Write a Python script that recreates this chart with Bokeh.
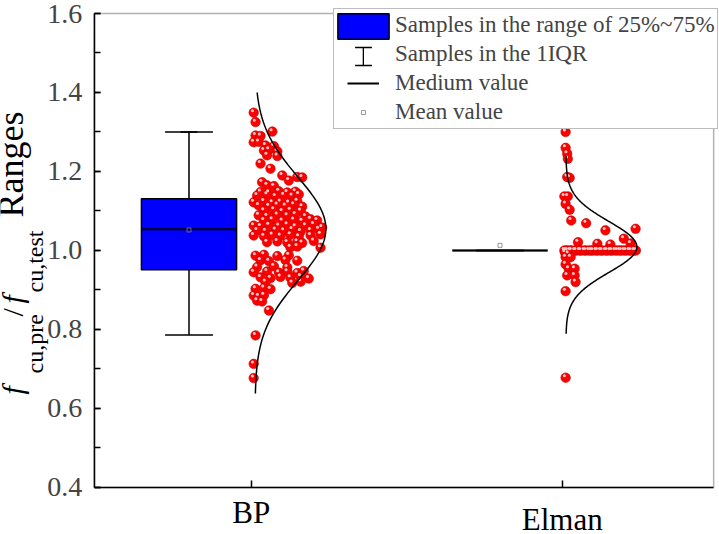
import numpy as np
from bokeh.plotting import figure
from bokeh.models import (ColumnDataSource, Range1d, Label, Legend, LegendItem,
                          FixedTicker, SingleIntervalTicker, PrintfTickFormatter,
                          BoxAnnotation)
from bokeh.transform import dodge
from bokeh.embed import file_html
from bokeh.resources import INLINE

# ---------------- data ----------------
categories = ["BP", "Elman"]
cat_pos = [1, 2]

# box statistics
q1 = [0.951, 1.000]
q3 = [1.131, 1.000]
medians = [1.054, 1.000]
whisker_low = [0.786, 1.000]
whisker_high = [1.300, 1.000]
means = [1.052, 1.013]

# normal-distribution curves drawn beside each group
curve_mu = [1.055, 1.009]
curve_sigma = [0.131, 0.0645]
curve_lo = [0.638, 0.789]
curve_hi = [1.400, 1.240]

bp_values = [
    1.349, 1.325, 1.301, 1.291, 1.290, 1.274, 1.275, 1.266, 1.264,
    1.253, 1.255, 1.251, 1.241, 1.239, 1.220, 1.207, 1.190, 1.186, 1.185,
    1.177, 1.173, 1.165, 1.163,
    1.148, 1.146, 1.150, 1.147, 1.149,
    1.139, 1.141, 1.137, 1.140, 1.138, 1.142,
    1.122, 1.124, 1.121, 1.123, 1.120, 1.125,
    1.114, 1.112, 1.115, 1.113, 1.116, 1.111,
    1.101, 1.103, 1.099, 1.102, 1.100,
    1.089, 1.087, 1.090, 1.088, 1.091, 1.086,
    1.076, 1.078, 1.075, 1.077, 1.074, 1.079, 1.076,
    1.063, 1.061, 1.064, 1.062, 1.065, 1.060, 1.063, 1.066, 1.058,
    1.051, 1.049, 1.052, 1.050, 1.053, 1.048, 1.051, 1.054,
    1.038, 1.036, 1.039, 1.037, 1.040, 1.035, 1.038, 1.041,
    1.021, 1.023, 1.020, 1.022, 1.019, 1.024,
    1.008, 1.010, 1.007,
    0.987, 0.989, 0.986, 0.988,
    0.975, 0.973, 0.976, 0.974,
    0.958, 0.960, 0.957,
    0.945, 0.947, 0.944, 0.946, 0.943, 0.948,
    0.932, 0.930, 0.933, 0.931, 0.934, 0.929,
    0.920, 0.918, 0.921,
    0.903, 0.905, 0.902,
    0.886, 0.884, 0.887,
    0.873, 0.871,
    0.848, 0.785, 0.713, 0.677,
]
bp_jitter = [
    0.008, 0.014, 0.068, 0.014, 0.030, 0.008, 0.024, 0.046, 0.073,
    0.041, 0.057, 0.084, 0.051, 0.084, 0.030, 0.062, 0.100, 0.148, 0.164,
    0.121, 0.035, 0.051, 0.073,
    0.030, 0.057, 0.089, 0.116, 0.142,
    0.019, 0.051, 0.078, 0.105, 0.132, 0.153,
    0.008, 0.041, 0.068, 0.094, 0.121, 0.148,
    0.024, 0.057, 0.084, 0.110, 0.137, 0.164,
    0.041, 0.073, 0.100, 0.126, 0.159,
    0.024, 0.051, 0.084, 0.116, 0.142, 0.175,
    0.041, 0.068, 0.100, 0.137, 0.164, 0.191, 0.212,
    0.008, 0.030, 0.057, 0.089, 0.116, 0.142, 0.175, 0.201, 0.228,
    0.019, 0.046, 0.078, 0.105, 0.132, 0.159, 0.191, 0.217,
    0.008, 0.041, 0.068, 0.094, 0.126, 0.153, 0.191, 0.223,
    0.051, 0.084, 0.116, 0.148, 0.164, 0.201,
    0.126, 0.148, 0.223,
    0.014, 0.041, 0.084, 0.121,
    0.030, 0.057, 0.110, 0.148,
    0.019, 0.073, 0.116,
    0.008, 0.051, 0.089, 0.116, 0.148, 0.169,
    0.030, 0.062, 0.094, 0.126, 0.159, 0.185,
    0.046, 0.132, 0.159,
    0.014, 0.041, 0.062,
    0.008, 0.024, 0.041,
    0.019, 0.035,
    0.057, 0.014, 0.008, 0.008,
]

elman_values = [
    1.300, 1.260, 1.245, 1.232, 1.186, 1.184, 1.137, 1.137, 1.118, 1.103,
    1.076, 1.069, 1.055, 1.051, 1.030, 1.021, 1.017, 1.015, 1.018,
    1.000, 1.000, 1.000, 1.000, 1.000, 1.000, 1.000, 1.000,
    1.000, 1.000, 1.000, 1.000, 1.000, 1.000, 1.000, 1.000,
    1.000, 1.000, 1.000, 1.000, 1.000, 1.000, 1.000, 1.000,
    1.000, 1.000, 1.000, 1.000, 1.000, 1.000, 1.000, 1.000,
    0.995, 0.992, 0.983, 0.983, 0.965, 0.954, 0.954, 0.937, 0.937,
    0.920, 0.897, 0.678,
]
elman_jitter = [
    0.011, 0.011, 0.016, 0.018, 0.016, 0.024, 0.007, 0.018, 0.011, 0.024,
    0.029, 0.077, 0.236, 0.139, 0.198, 0.051, 0.113, 0.155, 0.220,
    0.007, 0.013, 0.017, 0.026, 0.030, 0.041, 0.045, 0.056,
    0.060, 0.071, 0.076, 0.086, 0.093, 0.099, 0.109, 0.114,
    0.124, 0.129, 0.140, 0.145, 0.155, 0.160, 0.170, 0.177,
    0.185, 0.191, 0.200, 0.206, 0.216, 0.221, 0.231, 0.237,
    0.009, 0.020, 0.011, 0.027, 0.011, 0.021, 0.040, 0.016, 0.040,
    0.043, 0.011, 0.011,
]

legend_labels = ["Samples in the range of 25%~75%", "Samples in the 1IQR",
                 "Medium value", "Mean value"]

# ---------------- layout constants ----------------
W, H = 719, 534
X_LO, X_HI = 0.495, 2.487          # plotting box (axes) extent
Y_LO, Y_HI = 0.4, 1.6
X_VIEW = (0.1939, 2.5058)          # whole canvas in data units
Y_VIEW = (0.2810, 1.6329)
BOX_OFFSET = -0.20
BOX_WIDTH = 0.306
CAP_WIDTH = 0.154
CURVE_BASE = 0.012
CURVE_AMP = 0.228
SERIF = "Liberation Serif"
BASE_SHIFT = 0.39                  # label anchor correction (fraction of font size)

p = figure(width=W, height=H, output_backend="svg", toolbar_location=None,
           x_range=Range1d(*X_VIEW), y_range=Range1d(*Y_VIEW),
           min_border=0, background_fill_color="white",
           border_fill_color="white")
p.grid.visible = False
p.outline_line_color = None

# axes drawn inside the canvas at the plotting-box edges
yax = p.yaxis[0]
yax.fixed_location = X_LO
yax.bounds = (Y_LO, Y_HI)
yax.ticker = SingleIntervalTicker(interval=0.2, num_minor_ticks=2)
yax.formatter = PrintfTickFormatter(format="%.1f")
yax.major_tick_in = 6
yax.major_tick_out = 0
yax.minor_tick_in = 6
yax.minor_tick_out = 0
yax.axis_line_width = 1.5
yax.major_tick_line_width = 1.5
yax.minor_tick_line_width = 1.5
yax.major_label_text_font = SERIF
yax.major_label_text_font_size = "28px"
yax.major_label_standoff = 12

xax = p.xaxis[0]
xax.fixed_location = Y_LO
xax.bounds = (X_LO, X_HI)
xax.ticker = FixedTicker(ticks=cat_pos, minor_ticks=[])
xax.major_tick_in = 7
xax.major_tick_out = 0
xax.axis_line_width = 1.5
xax.major_tick_line_width = 1.5
xax.major_label_overrides = {1: "", 2: ""}

# frame box
p.add_layout(BoxAnnotation(left=X_LO, right=X_HI, bottom=Y_LO, top=Y_HI,
                           fill_color=None, line_color="black", line_width=1.5))

# ---------------- box plots ----------------
box_x = [c + BOX_OFFSET for c in cat_pos]
box_src = ColumnDataSource(dict(
    x=box_x, q1=q1, q3=q3, med=medians, lo=whisker_low, hi=whisker_high,
    mean=means,
    mx0=[x - BOX_WIDTH / 2 for x in box_x], mx1=[x + BOX_WIDTH / 2 for x in box_x],
    cx0=[x - CAP_WIDTH / 2 for x in box_x], cx1=[x + CAP_WIDTH / 2 for x in box_x],
))

p.segment(x0="x", y0="q3", x1="x", y1="hi", source=box_src, line_color="black", line_width=1.5)
p.segment(x0="x", y0="q1", x1="x", y1="lo", source=box_src, line_color="black", line_width=1.5)
p.segment(x0="cx0", y0="hi", x1="cx1", y1="hi", source=box_src, line_color="black", line_width=1.5)
p.segment(x0="cx0", y0="lo", x1="cx1", y1="lo", source=box_src, line_color="black", line_width=1.5)

r_box = p.vbar(x="x", width=BOX_WIDTH, top="q3", bottom="q1", source=box_src,
               fill_color="#0000ff", line_color="black", line_width=1.5)
r_med = p.segment(x0="mx0", y0="med", x1="mx1", y1="med", source=box_src,
                  line_color="black", line_width=2)
r_mean = p.scatter(x="x", y="mean", source=box_src, marker="square", size=4,
                   fill_color=None, line_color="#808080", line_width=0.8)

# legend symbol renderers, drawn exactly on top of the BP whisker (so invisible)
bp_whisk_src = ColumnDataSource(dict(x=box_x[:1], q3=q3[:1], hi=whisker_high[:1]))
r_stem = p.vbar(x="x", width=0.0005, bottom="q3", top="hi", source=bp_whisk_src,
                fill_color="black", line_color=None)
r_cap = p.scatter(x="x", y="hi", source=bp_whisk_src, marker="dash", size=17,
                  line_color="black", line_width=1.5)
r_blank = p.scatter(x="x", y="med", source=box_src, marker="circle", size=1,
                    fill_alpha=0, line_alpha=0)

# ---------------- scatter points ----------------
def point_layer(vals, jit, pos):
    src = ColumnDataSource(dict(x=[pos + j for j in jit], y=vals))
    p.scatter(x="x", y="y", source=src, marker="circle", size=9.5,
              fill_color="#ff0000", line_color="#c00000", line_width=0.6)
    p.scatter(x=dodge("x", -0.004), y=dodge("y", 0.005), source=src,
              marker="circle", size=3, fill_color="#ffc8c8", line_color=None)

point_layer(bp_values, bp_jitter, cat_pos[0])
point_layer(elman_values, elman_jitter, cat_pos[1])

# ---------------- normal curves ----------------
for i, c in enumerate(cat_pos):
    ys = np.linspace(curve_lo[i], curve_hi[i], 200)
    xs = c + CURVE_BASE + CURVE_AMP * np.exp(-0.5 * ((ys - curve_mu[i]) / curve_sigma[i]) ** 2)
    p.line(xs, ys, line_color="black", line_width=1.5)

# ---------------- category labels ----------------
CAT_FS = 31
for c, name, base in zip(cat_pos, categories, [10, 3]):
    p.add_layout(Label(x=c, y=base + BASE_SHIFT * CAT_FS, x_units="data", y_units="screen",
                       text=name, text_align="center", text_baseline="alphabetic",
                       text_font=SERIF, text_font_size=f"{CAT_FS}px",
                       text_color="black"))

# ---------------- y axis title (rich text pieces) ----------------
TITLE_DX = 2
title_parts = [
    # text, baseline x, start y (pixels from canvas left / bottom), size, style
    ("f", 22, 140, 30, "italic"),
    ("cu,pre", 42, 161, 24, "normal"),
    ("/", 22, 218, 30, "normal"),
    ("f", 22, 231, 30, "italic"),
    ("cu,test", 42, 242, 24, "normal"),
    ("Ranges", 23, 317, 36, "normal"),
]
for txt, bx, sy, fs, st in title_parts:
    p.add_layout(Label(x=bx + TITLE_DX - BASE_SHIFT * fs, y=sy, x_units="screen",
                       y_units="screen", text=txt, angle=np.pi / 2, text_align="left",
                       text_baseline="alphabetic", text_font=SERIF,
                       text_font_size=f"{fs}px", text_font_style=st,
                       text_color="black"))

# ---------------- legend (text + frame) ----------------
LEG_LEFT, LEG_TOP = 333, 10
ROW_H, PAD, GAP = 28, 2, 1
leg_h = 4 * ROW_H + 3 * GAP + 2 * PAD
legend = Legend(items=[LegendItem(label=t, renderers=[r_blank]) for t in legend_labels],
                location=(LEG_LEFT, H - LEG_TOP - leg_h))
legend.label_text_font = SERIF
legend.label_text_font_size = "23px"
legend.glyph_width = 59
legend.glyph_height = ROW_H
legend.label_height = ROW_H
legend.label_standoff = 0
legend.padding = PAD
legend.spacing = GAP
legend.margin = 0
legend.border_line_color = "#7a7a7a"
legend.border_line_width = 1.2
legend.background_fill_color = "white"
legend.background_fill_alpha = 1.0
p.add_layout(legend)

# symbol-only legends (each centred on its row of the legend above)
def symbol_legend(renderer, cx, cy, gw, gh):
    lg = Legend(items=[LegendItem(label="", renderers=[renderer])],
                location=(cx - gw / 2, H - cy - gh / 2))
    lg.glyph_width = gw
    lg.glyph_height = gh
    lg.label_height = 1
    lg.label_standoff = 0
    lg.label_text_font_size = "1px"
    lg.padding = 0
    lg.spacing = 0
    lg.margin = 0
    lg.border_line_color = None
    lg.background_fill_alpha = 0
    p.add_layout(lg)

SYM_X = 362.5
symbol_legend(r_box, SYM_X, 25.5, 64, 32)
symbol_legend(r_stem, SYM_X, 56, 2, 22)
symbol_legend(r_cap, SYM_X, 47, 42, 42)
symbol_legend(r_cap, SYM_X, 64.5, 42, 42)
symbol_legend(r_med, SYM_X, 83, 32, 26)
symbol_legend(r_mean, SYM_X, 112, 10, 10)

open("out.html", "w").write(file_html(p, INLINE))
